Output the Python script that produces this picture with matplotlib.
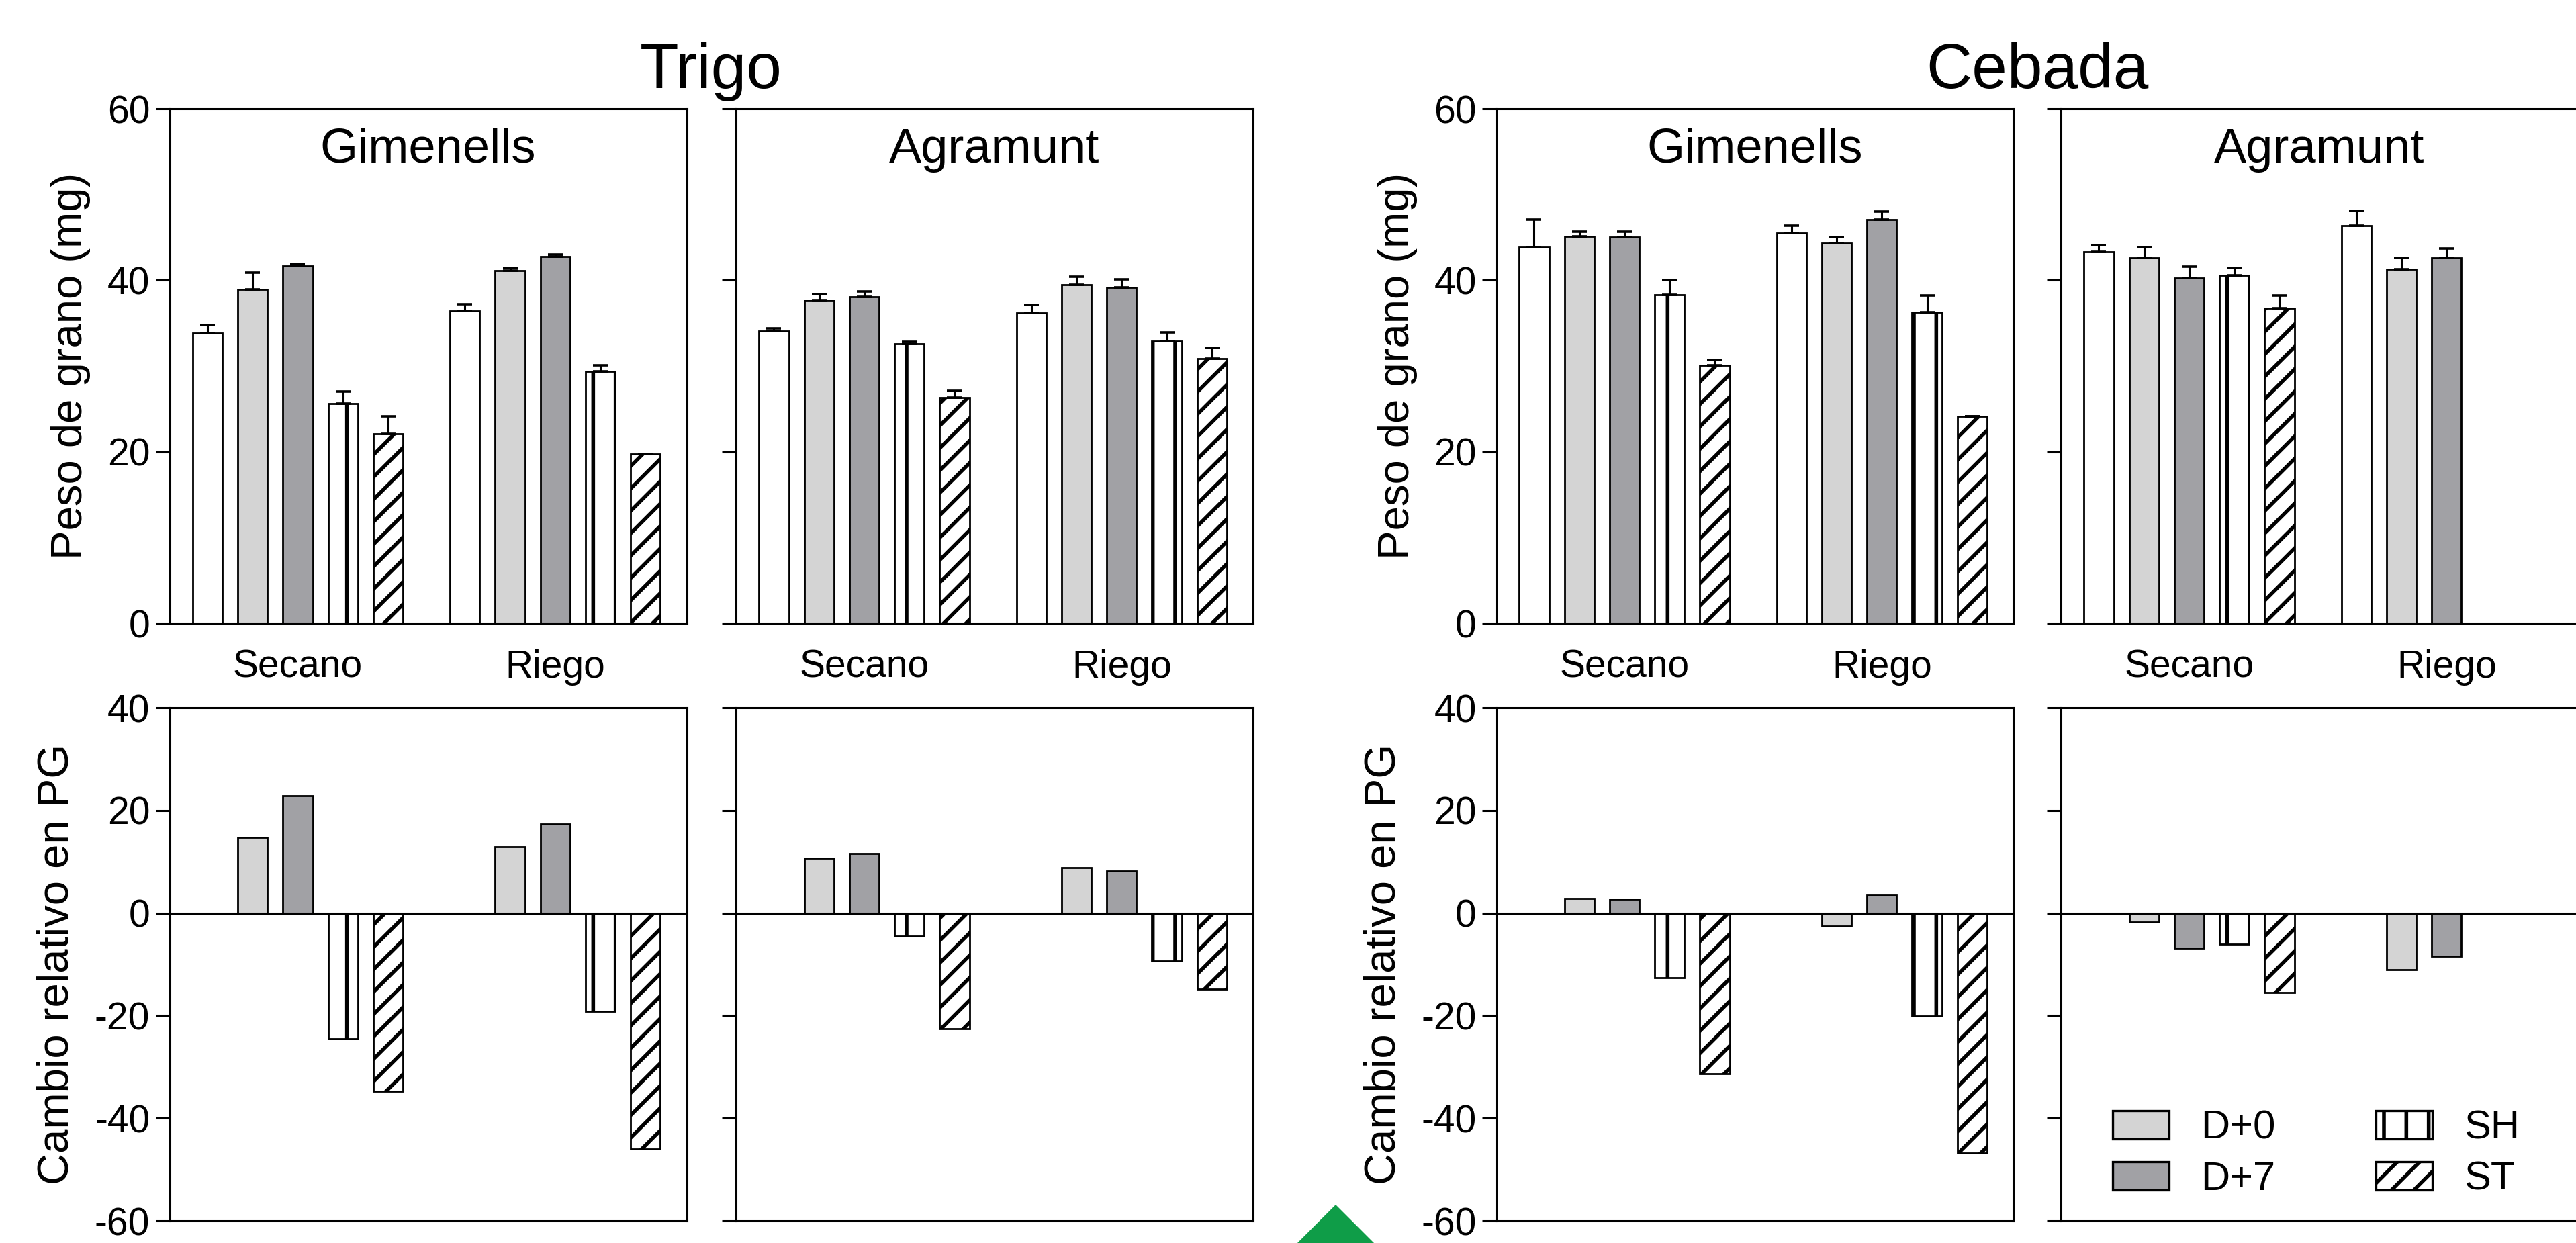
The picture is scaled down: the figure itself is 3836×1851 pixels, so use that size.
import numpy as np
import matplotlib
matplotlib.use("Agg")
import matplotlib.pyplot as plt
from matplotlib.patches import Patch, Polygon

plt.rcParams['font.family'] = ['Liberation Sans', 'DejaVu Sans']
plt.rcParams['hatch.linewidth'] = 2.0
plt.rcParams['axes.unicode_minus'] = False

# Datos
tratamientos = ['Control', 'D+0', 'D+7', 'SH', 'ST']
condiciones = ['Secano', 'Riego']
cultivos = ['Trigo', 'Cebada']
sitios = ['Gimenells', 'Agramunt']

# Peso de grano (mg): [Secano, Riego] x [Control, D+0, D+7, SH, ST]
trigo_gim_peso = [[33.8, 38.9, 41.7, 25.6, 22.1], [36.4, 41.1, 42.8, 29.4, 19.7]]
trigo_gim_err = [[1.0, 2.0, 0.2, 1.4, 2.0], [0.8, 0.3, 0.2, 0.7, 0.0]]
trigo_agr_peso = [[34.1, 37.7, 38.1, 32.6, 26.3], [36.2, 39.5, 39.2, 32.9, 30.9]]
trigo_agr_err = [[0.3, 0.7, 0.6, 0.2, 0.8], [0.9, 0.9, 0.9, 1.0, 1.2]]
cebada_gim_peso = [[43.9, 45.1, 45.0, 38.3, 30.1], [45.5, 44.3, 47.1, 36.3, 24.1]]
cebada_gim_err = [[3.2, 0.6, 0.7, 1.7, 0.6], [0.9, 0.7, 0.9, 1.9, 0.0]]
cebada_agr_peso = [[43.3, 42.6, 40.3, 40.6, 36.7], [46.4, 41.3, 42.6, np.nan, np.nan]]
cebada_agr_err = [[0.8, 1.3, 1.3, 0.8, 1.5], [1.7, 1.3, 1.1, np.nan, np.nan]]

# Cambio relativo en PG (%): [Secano, Riego] x [D+0, D+7, SH, ST]
trigo_gim_cambio = [[14.75, 22.9, -24.5, -34.8], [12.9, 17.4, -19.2, -46.0]]
trigo_agr_cambio = [[10.7, 11.6, -4.5, -22.6], [8.9, 8.2, -9.3, -14.8]]
cebada_gim_cambio = [[2.8, 2.7, -12.6, -31.3], [-2.6, 3.5, -20.1, -46.8]]
cebada_agr_cambio = [[-1.8, -6.9, -6.1, -15.5], [-11.1, -8.4, np.nan, np.nan]]

peso = [trigo_gim_peso, trigo_agr_peso, cebada_gim_peso, cebada_agr_peso]
errores = [trigo_gim_err, trigo_agr_err, cebada_gim_err, cebada_agr_err]
cambio = [trigo_gim_cambio, trigo_agr_cambio, cebada_gim_cambio, cebada_agr_cambio]
titulos_panel = ['Gimenells', 'Agramunt', 'Gimenells', 'Agramunt']

# Estilos de cada tratamiento
colores = ['white', '#d4d4d4', '#a1a1a5', 'white', 'white']
tramas = [None, None, None, '|', '//']

W, H = 3836, 1851
DPI = 200
fig = plt.figure(figsize=(W / DPI, H / DPI), dpi=DPI)

lefts = [252.5, 1096, 2228, 3069]
ancho = 770
fila_sup = (162, 928)
fila_inf = (1054, 1818)

sep_grupo = 5.7
ancho_barra = 0.656
xlim = (-0.84, 10.61)


def posiciones(g, n=5, inicio=0):
    return g * sep_grupo + np.arange(inicio, n)


def estilo_ejes(ax, ticks):
    for s in ax.spines.values():
        s.set_linewidth(1.1)
    ax.set_xlim(*xlim)
    ax.set_yticks(ticks)
    ax.tick_params(axis='y', direction='out', length=7.5, width=1.1,
                   labelsize=20.5, pad=3)
    ax.tick_params(axis='x', length=0, labelsize=20.5, pad=14)


for p in range(4):
    # fila superior: peso de grano
    y0, y1 = fila_sup
    ax = fig.add_axes([lefts[p] / W, 1 - y1 / H, ancho / W, (y1 - y0) / H])
    for g in range(2):
        xs = posiciones(g)
        for i in range(5):
            ax.bar(xs[i], peso[p][g][i], width=ancho_barra, color=colores[i],
                   edgecolor='black', linewidth=1.0, hatch=tramas[i], zorder=2)
        err = np.array(errores[p][g])
        ax.errorbar(xs, peso[p][g], yerr=[np.zeros(5), err], fmt='none',
                    ecolor='black', elinewidth=1.1, capsize=4, capthick=1.3,
                    zorder=3)
    ax.set_ylim(0, 60)
    estilo_ejes(ax, [0, 20, 40, 60])
    ax.set_xticks([sep_grupo * g + 2 for g in range(2)])
    ax.set_xticklabels(condiciones)
    ax.text(0.5, 1 - 80 / (y1 - y0), titulos_panel[p], transform=ax.transAxes,
            ha='center', va='baseline', fontsize=26)
    if p % 2 == 0:
        ax.text(-147 / ancho, 0.5, 'Peso de grano (mg)', transform=ax.transAxes,
                rotation=90, ha='center', va='center', fontsize=23.5)
    else:
        ax.set_yticklabels([])

    # fila inferior: cambio relativo
    y0, y1 = fila_inf
    ax2 = fig.add_axes([lefts[p] / W, 1 - y1 / H, ancho / W, (y1 - y0) / H])
    for g in range(2):
        xs = posiciones(g, inicio=1)
        for i in range(4):
            ax2.bar(xs[i], cambio[p][g][i], width=ancho_barra,
                    color=colores[i + 1], edgecolor='black', linewidth=1.0,
                    hatch=tramas[i + 1], zorder=2)
    ax2.axhline(0, color='black', linewidth=1.1, zorder=3)
    ax2.set_ylim(-60, 40)
    estilo_ejes(ax2, [-60, -40, -20, 0, 20, 40])
    ax2.set_xticks([])
    if p % 2 == 0:
        ax2.text(-168 / ancho, 0.5, 'Cambio relativo en PG', transform=ax2.transAxes,
                 rotation=90, ha='center', va='center', fontsize=23.5)
    else:
        ax2.set_yticklabels([])

    if p == 3:
        handles = [Patch(facecolor=colores[i], edgecolor='black', linewidth=1.2,
                         hatch=tramas[i]) for i in range(1, 5)]
        ax2.legend(handles, tratamientos[1:], ncol=2, frameon=False,
                   loc='lower left', bbox_to_anchor=(0.1, 0.045),
                   borderpad=0, borderaxespad=0, fontsize=21.5,
                   handlelength=1.4, handleheight=0.7, handletextpad=0.8,
                   columnspacing=2.5, labelspacing=0.35)

# Titulos de cultivo
fig.text((252.5 + 1096 + ancho) / 2 / W, 1 - 131 / H, cultivos[0],
         ha='center', va='baseline', fontsize=34)
fig.text((2228 + 3069 + ancho) / 2 / W, 1 - 131 / H, cultivos[1],
         ha='center', va='baseline', fontsize=34)

# Triangulo verde decorativo
tri = Polygon([[(1989 - 77) / W, -20 / H], [1989 / W, 1 - 1794 / H],
               [(1989 + 77) / W, -20 / H]], closed=True,
              transform=fig.transFigure, facecolor='#0f9d48', edgecolor='none')
fig.add_artist(tri)

fig.savefig('out.png', dpi=DPI)
